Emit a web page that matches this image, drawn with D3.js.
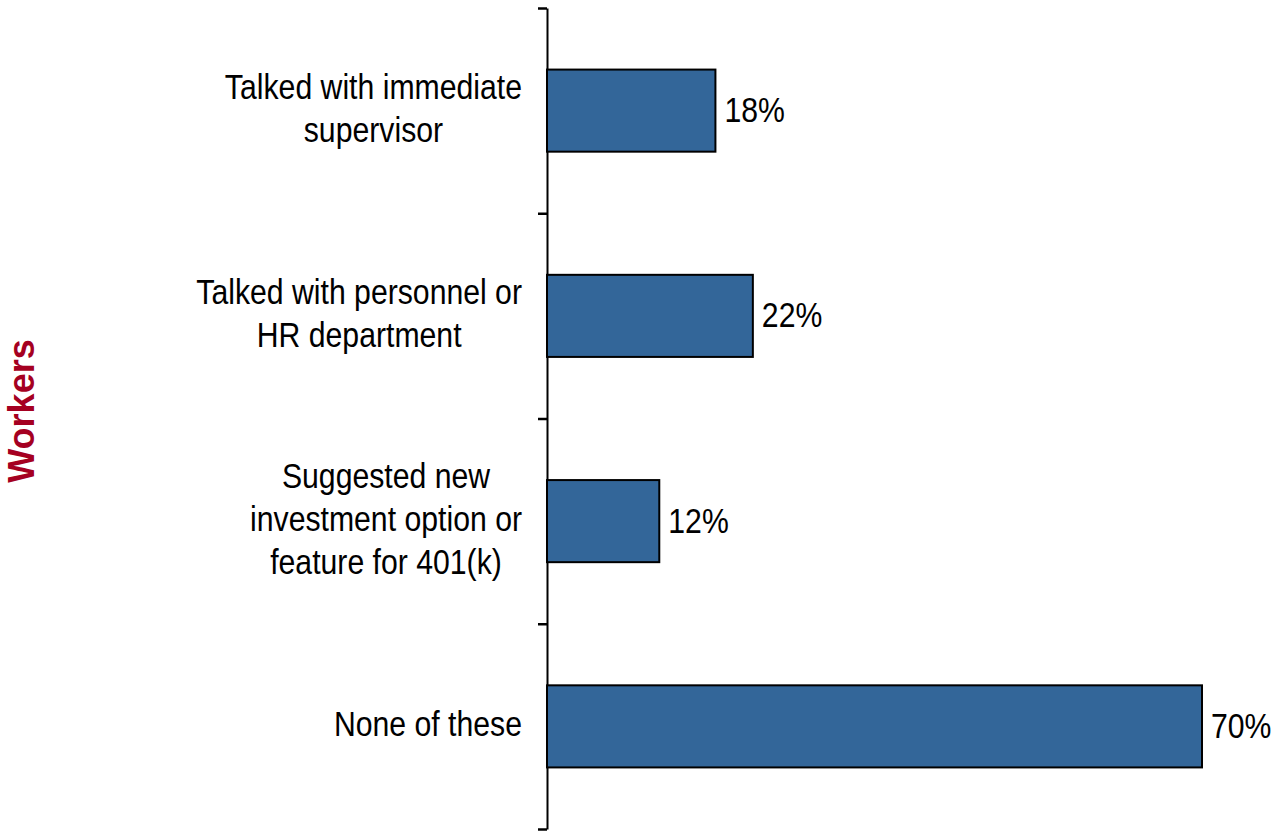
<!DOCTYPE html>
<html>
<head>
<meta charset="utf-8">
<script src="https://cdn.jsdelivr.net/npm/d3@7"></script>
<style>
  html, body { margin: 0; padding: 0; background: #fff; }
  svg { display: block; }
  text { font-family: "Liberation Sans", Arial, sans-serif; fill: #000; }
</style>
</head>
<body>
<svg id="chart" width="1273" height="834"></svg>
<script>
// Survey actions taken by workers, share of respondents
const categories = [
  ["Talked with immediate", "supervisor"],
  ["Talked with personnel or", "HR department"],
  ["Suggested new", "investment option or", "feature for 401(k)"],
  ["None of these"]
];
const values = [0.18, 0.22, 0.12, 0.70];
const valueLabels = ["18%", "22%", "12%", "70%"];
const groupTitle = "Workers";

const svg = d3.select("#chart");

const plot = { left: 547, right: 1202, top: 8, bottom: 829 };
const fontSize = 35;
const squeeze = 0.863;      // horizontal compression of the text
const lineGap = 43;

const keys = categories.map((_, i) => i);

const y = d3.scaleBand()
  .domain(keys)
  .range([plot.top, plot.bottom])
  .paddingInner(0.6)
  .paddingOuter(0.3);

const x = d3.scaleLinear()
  .domain([0, 0.70])
  .range([plot.left, plot.right]);

// Category separators on the vertical axis
const sep = d3.scaleLinear().domain([0, categories.length]).range([plot.top, plot.bottom]);
const axis = d3.axisLeft(sep)
  .tickValues(d3.range(categories.length + 1))
  .tickSize(9)
  .tickSizeOuter(0)
  .tickFormat("");

const gAxis = svg.append("g")
  .attr("transform", `translate(${plot.left},0)`)
  .call(axis);
gAxis.select(".domain").attr("stroke", "#000").attr("stroke-width", 2);
gAxis.selectAll(".tick line").attr("stroke", "#000").attr("stroke-width", 2.5);

// Bars
svg.append("g")
  .selectAll("rect")
  .data(values)
  .join("rect")
  .attr("x", x(0))
  .attr("y", (d, i) => y(i))
  .attr("width", d => x(d) - x(0))
  .attr("height", y.bandwidth())
  .attr("fill", "#336699")
  .attr("stroke", "#000")
  .attr("stroke-width", 2);

// Value labels
svg.append("g")
  .selectAll("text")
  .data(values)
  .join("text")
  .attr("transform", (d, i) => `translate(${x(d) + 9},${y(i) + y.bandwidth() / 2 + 11.5}) scale(${squeeze},1)`)
  .attr("font-size", fontSize)
  .text((d, i) => valueLabels[i]);

// Category labels: lines centred on each other, block right-aligned to the axis
const labelRight = 522;
const gLab = svg.append("g");
categories.forEach((lines, i) => {
  const cy = y(i) + y.bandwidth() / 2;
  const n = lines.length;
  const nodes = lines.map(t =>
    gLab.append("text")
      .attr("font-size", fontSize)
      .attr("text-anchor", "middle")
      .text(t)
  );
  const maxW = d3.max(nodes, s => s.node().getComputedTextLength()) * squeeze;
  const cx = labelRight - maxW / 2;
  nodes.forEach((s, k) => {
    const by = cy + (k - (n - 1) / 2) * lineGap + 10;
    s.attr("transform", `translate(${cx},${by}) scale(${squeeze},1)`);
  });
});

// Group title on the left
svg.append("text")
  .attr("transform", "translate(34,411) rotate(-90)")
  .attr("text-anchor", "middle")
  .attr("font-size", 36)
  .attr("font-weight", "bold")
  .style("fill", "#a50021")
  .text(groupTitle);
</script>
</body>
</html>
